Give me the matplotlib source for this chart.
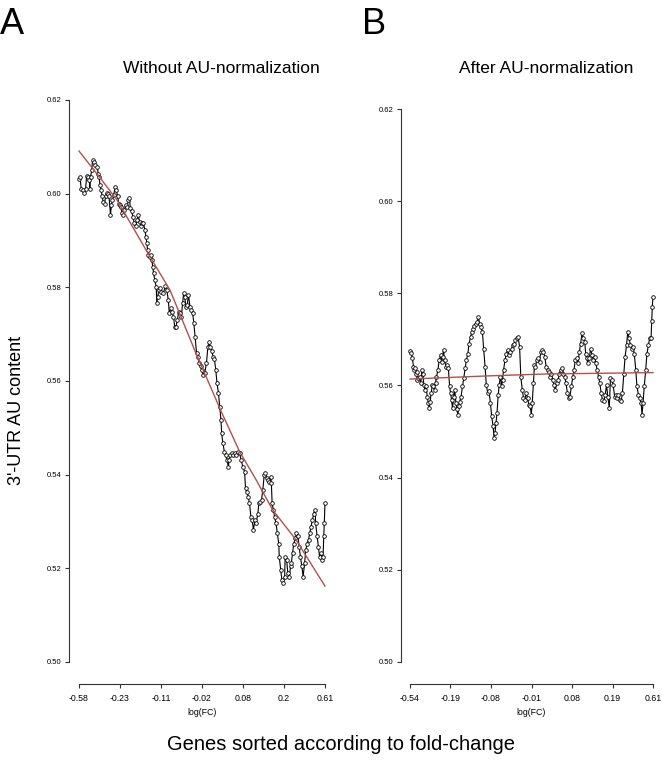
import matplotlib
matplotlib.use("Agg")
import matplotlib.pyplot as plt
import numpy as np

plt.rcParams["font.family"] = ["Liberation Sans", "DejaVu Sans"]

# gene rank (percent of sorted genes) and sliding-window 3'-UTR AU content
rank_a = [0, 0.4, 0.9, 1.5, 2.0, 2.7, 3.1, 3.6, 4.2, 4.4, 4.7, 5.2, 5.5, 6.1, 6.7, 7.4, 7.8, 8.2, 8.5, 9.0,
          9.4, 9.8, 10.4, 10.8, 11.2, 11.7, 12.2, 12.8, 13.2, 13.6, 14.1, 14.7, 15.2, 15.7, 16.2, 16.6, 17.1,
          17.5, 17.9, 18.4, 19.0, 19.5, 20.1, 20.5, 20.9, 21.4, 21.9, 22.5, 23.0, 23.6, 24.1, 24.6, 25.2,
          25.7, 26.2, 26.8, 27.2, 27.6, 27.9, 28.1, 28.7, 29.2, 29.6, 30.0, 30.3, 30.8, 31.4, 31.6, 32.0,
          32.4, 33.0, 33.4, 34.3, 35.0, 35.7, 36.3, 36.7, 37.3, 37.8, 38.4, 38.9, 39.4, 40.0, 40.5, 41.0,
          41.6, 42.1, 42.5, 42.9, 43.5, 44.0, 44.5, 45.1, 45.6, 46.2, 46.7, 47.2, 47.8, 48.3, 48.9, 49.4,
          49.9, 50.5, 51.1, 51.8, 52.4, 52.9, 53.4, 54.0, 54.5, 55.0, 55.6, 56.1, 56.7, 57.2, 57.7, 58.0,
          58.5, 59.1, 59.6, 60.2, 60.7, 61.0, 61.5, 62.0, 62.6, 63.4, 63.9, 64.6, 65.3, 65.9, 66.6, 67.3,
          67.7, 68.2, 68.8, 69.3, 69.9, 70.4, 70.9, 71.5, 72.0, 72.7, 73.1, 73.6, 74.2, 74.7, 75.3, 75.8,
          76.3, 76.9, 77.4, 77.9, 78.2, 78.5, 79.0, 79.5, 80.1, 80.6, 81.2, 81.4, 82.0, 82.5, 83.0, 83.6,
          83.8, 84.4, 84.9, 85.5, 86.0, 86.3, 86.8, 87.3, 87.9, 88.4, 89.0, 89.5, 90.0, 90.6, 91.1, 91.7,
          92.2, 92.7, 93.3, 93.8, 94.3, 94.9, 95.4, 96.0, 96.2, 96.8, 97.3, 97.8, 98.4, 98.9, 99.2, 99.5,
          99.7, 100.0]
au_a = [0.6031, 0.6035, 0.6011, 0.6008, 0.6001, 0.6011, 0.6038, 0.6035, 0.6029, 0.6011, 0.6036, 0.6051,
        0.6072, 0.6068, 0.6061, 0.6058, 0.6043, 0.6036, 0.6019, 0.6008, 0.5994, 0.5983, 0.5979, 0.5994,
        0.6001, 0.5999, 0.5994, 0.5955, 0.5976, 0.5986, 0.5997, 0.6015, 0.6008, 0.5994, 0.5979, 0.5976,
        0.5972, 0.5958, 0.5955, 0.5965, 0.5976, 0.5972, 0.5986, 0.5990, 0.5969, 0.5962, 0.5951, 0.5937,
        0.5930, 0.5944, 0.5955, 0.5940, 0.5930, 0.5937, 0.5937, 0.5922, 0.5908, 0.5894, 0.5880, 0.5869,
        0.5865, 0.5869, 0.5858, 0.5844, 0.5830, 0.5816, 0.5801, 0.5766, 0.5780, 0.5794, 0.5798, 0.5791,
        0.5787, 0.5802, 0.5794, 0.5773, 0.5745, 0.5755, 0.5748, 0.5737, 0.5716, 0.5716, 0.5730, 0.5748,
        0.5745, 0.5737, 0.5766, 0.5787, 0.5780, 0.5759, 0.5762, 0.5784, 0.5759, 0.5752, 0.5745, 0.5723,
        0.5695, 0.5659, 0.5652, 0.5638, 0.5631, 0.5624, 0.5613, 0.5617, 0.5638, 0.5673, 0.5684, 0.5673,
        0.5663, 0.5652, 0.5648, 0.5624, 0.5595, 0.5574, 0.5545, 0.5517, 0.5488, 0.5467, 0.5449, 0.5442,
        0.5431, 0.5417, 0.5431, 0.5442, 0.5446, 0.5442, 0.5446, 0.5442, 0.5449, 0.5446, 0.5431, 0.5417,
        0.5406, 0.5371, 0.5364, 0.5353, 0.5339, 0.5310, 0.5303, 0.5282, 0.5303, 0.5296, 0.5317, 0.5339,
        0.5342, 0.5346, 0.5367, 0.5399, 0.5403, 0.5392, 0.5389, 0.5385, 0.5396, 0.5382, 0.5339, 0.5325,
        0.5310, 0.5296, 0.5275, 0.5253, 0.5225, 0.5196, 0.5175, 0.5168, 0.5182, 0.5225, 0.5218, 0.5189,
        0.5182, 0.5204, 0.5211, 0.5232, 0.5253, 0.5264, 0.5275, 0.5268, 0.5246, 0.5225, 0.5204, 0.5182,
        0.5211, 0.5239, 0.5253, 0.5261, 0.5275, 0.5289, 0.5303, 0.5317, 0.5325, 0.5296, 0.5268, 0.5246,
        0.5225, 0.5232, 0.5218, 0.5225, 0.5268, 0.5296, 0.5339]
fit_rank_a = [0, 8.7, 15.5, 28.9, 37.0, 47.8, 57.8, 65.3, 72.0, 78.7, 88.2, 100]
fit_au_a = [0.6091, 0.6033, 0.5986, 0.5865, 0.5794, 0.5656, 0.5535, 0.5449, 0.5389, 0.5325, 0.5261, 0.5162]

rank_b = [0, 0.5, 1.0, 1.4, 1.6, 2.0, 2.5, 2.7, 3.0, 3.4, 4.0, 4.4, 4.9, 5.3, 5.7, 6.1, 6.6, 7.1, 7.5, 7.9,
          8.3, 8.7, 9.2, 9.6, 10.1, 10.5, 10.9, 11.5, 12.0, 12.6, 13.0, 13.4, 13.8, 14.2, 14.8, 15.3, 15.8,
          16.3, 16.7, 17.1, 17.5, 18.0, 18.4, 18.9, 19.3, 19.7, 20.1, 20.5, 21.0, 21.6, 22.1, 22.7, 23.2,
          23.8, 24.3, 24.9, 25.4, 26.0, 26.5, 27.0, 27.6, 28.1, 28.7, 29.2, 29.8, 30.3, 30.9, 31.4, 32.0,
          32.5, 33.1, 33.6, 34.2, 34.6, 35.0, 35.4, 35.8, 36.3, 36.7, 37.2, 37.7, 38.1, 38.5, 39.1, 39.6,
          40.2, 40.7, 41.3, 41.8, 42.3, 42.9, 43.4, 44.0, 44.5, 45.1, 45.6, 46.2, 46.7, 47.3, 47.8, 48.4,
          48.9, 49.5, 49.9, 50.3, 50.8, 51.2, 51.6, 52.2, 52.7, 53.3, 53.8, 54.4, 54.9, 55.5, 56.0, 56.6,
          57.1, 57.7, 58.2, 58.7, 59.3, 59.8, 60.4, 60.9, 61.5, 62.0, 62.6, 63.1, 63.7, 64.2, 64.8, 65.3,
          65.8, 66.4, 67.0, 67.5, 68.0, 68.6, 69.1, 69.7, 70.2, 70.8, 71.3, 71.9, 72.3, 72.7, 73.2, 73.8,
          74.3, 74.9, 75.4, 76.0, 76.5, 77.0, 77.6, 78.1, 78.7, 79.2, 79.8, 80.3, 80.9, 81.4, 82.0, 82.5,
          83.1, 83.6, 84.2, 84.7, 85.2, 85.8, 86.3, 86.9, 87.4, 88.0, 88.5, 89.1, 89.6, 90.2, 90.7, 91.3,
          91.8, 92.3, 92.9, 93.4, 94.0, 94.5, 95.1, 95.5, 95.9, 96.4, 97.0, 97.5, 98.1, 98.6, 99.2, 99.5,
          99.7, 100.0]
au_b = [0.5675, 0.5671, 0.5659, 0.5641, 0.5634, 0.5637, 0.5626, 0.5630, 0.5612, 0.5616, 0.5619, 0.5605,
        0.5634, 0.5626, 0.5601, 0.5591, 0.5598, 0.5576, 0.5562, 0.5551, 0.5565, 0.5583, 0.5601, 0.5598,
        0.5591, 0.5605, 0.5619, 0.5634, 0.5655, 0.5666, 0.5651, 0.5662, 0.5677, 0.5655, 0.5641, 0.5644,
        0.5637, 0.5598, 0.5583, 0.5569, 0.5551, 0.5576, 0.5591, 0.5562, 0.5548, 0.5537, 0.5555, 0.5565,
        0.5576, 0.5598, 0.5616, 0.5637, 0.5655, 0.5669, 0.5691, 0.5705, 0.5716, 0.5723, 0.5730, 0.5734,
        0.5737, 0.5748, 0.5734, 0.5727, 0.5716, 0.5680, 0.5641, 0.5601, 0.5583, 0.5587, 0.5562, 0.5533,
        0.5512, 0.5487, 0.5498, 0.5519, 0.5540, 0.5579, 0.5601, 0.5619, 0.5598, 0.5612, 0.5634, 0.5655,
        0.5669, 0.5677, 0.5666, 0.5673, 0.5680, 0.5687, 0.5691, 0.5698, 0.5702, 0.5705, 0.5684, 0.5619,
        0.5591, 0.5573, 0.5569, 0.5583, 0.5573, 0.5558, 0.5555, 0.5537, 0.5562, 0.5605, 0.5644, 0.5641,
        0.5655, 0.5659, 0.5651, 0.5673, 0.5677, 0.5673, 0.5662, 0.5641, 0.5634, 0.5630, 0.5619, 0.5626,
        0.5612, 0.5601, 0.5591, 0.5605, 0.5612, 0.5626, 0.5634, 0.5637, 0.5626, 0.5619, 0.5605, 0.5583,
        0.5573, 0.5576, 0.5598, 0.5619, 0.5634, 0.5655, 0.5659, 0.5648, 0.5673, 0.5691, 0.5713, 0.5702,
        0.5695, 0.5669, 0.5659, 0.5648, 0.5659, 0.5680, 0.5666, 0.5655, 0.5662, 0.5648, 0.5634, 0.5619,
        0.5605, 0.5583, 0.5569, 0.5566, 0.5580, 0.5601, 0.5576, 0.5551, 0.5616, 0.5612, 0.5601, 0.5576,
        0.5580, 0.5573, 0.5580, 0.5569, 0.5566, 0.5583, 0.5626, 0.5662, 0.5687, 0.5716, 0.5702, 0.5687,
        0.5680, 0.5684, 0.5669, 0.5634, 0.5598, 0.5580, 0.5573, 0.5562, 0.5537, 0.5562, 0.5598, 0.5634,
        0.5669, 0.5687, 0.5702, 0.5702, 0.5741, 0.5770, 0.5792]
fit_rank_b = [0, 33, 56, 100]
fit_au_b = [0.5614, 0.5621, 0.5625, 0.5628]

fc_labels_a = ["-0.58", "-0.23", "-0.11", "-0.02", "0.08", "0.2", "0.61"]
fc_labels_b = ["-0.54", "-0.19", "-0.08", "-0.01", "0.08", "0.19", "0.61"]
y_ticks = [0.50, 0.52, 0.54, 0.56, 0.58, 0.60, 0.62]

W, H = 662, 762
fig = plt.figure(figsize=(W / 100, H / 100), dpi=100)


def panel(rect, rank, au, fit_rank, fit_au, labels, left_out):
    ax = fig.add_axes(rect)
    ax.plot(rank, au, color="black", lw=0.8, marker="o", ms=2.6, mfc="white",
            mec="black", mew=0.6, clip_on=False, zorder=2)
    ax.plot(fit_rank, fit_au, color="#b4504a", lw=1.0, clip_on=False, zorder=3)
    ax.set_xlim(0, 100)
    ax.set_ylim(0.50, 0.62)
    ax.set_xticks(np.linspace(0, 100, 7))
    ax.set_xticklabels(labels)
    ax.set_yticks(y_ticks)
    ax.set_yticklabels([f"{v:.2f}" for v in y_ticks], rotation=90, va="center")
    for side in ("top", "right"):
        ax.spines[side].set_visible(False)
    ax.spines["left"].set_position(("outward", left_out))
    ax.spines["bottom"].set_position(("outward", 15.8))
    ax.spines["left"].set_bounds(0.50, 0.62)
    ax.spines["bottom"].set_bounds(0, 100)
    for side in ("left", "bottom"):
        ax.spines[side].set_color("#333333")
        ax.spines[side].set_linewidth(0.8)
    ax.tick_params(axis="both", length=3, width=0.8, color="#333333")
    ax.tick_params(axis="y", labelsize=5.5, pad=2.5)
    ax.tick_params(axis="x", labelsize=6.3, pad=4)
    ax.set_xlabel("log(FC)", fontsize=6.3, labelpad=4)
    ax.patch.set_visible(False)
    return ax


panel([79 / W, 1 - 662 / H, 246 / W, 562 / H], rank_a, au_a, fit_rank_a, fit_au_a, fc_labels_a, 7.2)
panel([410 / W, 1 - 662 / H, 243 / W, 553 / H], rank_b, au_b, fit_rank_b, fit_au_b, fc_labels_b, 6.5)

fig.text(221 / W, 1 - 73 / H, "Without AU-normalization", fontsize=12.5, ha="center", va="baseline")
fig.text(546 / W, 1 - 73 / H, "After AU-normalization", fontsize=12.5, ha="center", va="baseline")
fig.text(0 / W, 1 - 34 / H, "A", fontsize=26, ha="left", va="baseline")
fig.text(362 / W, 1 - 34 / H, "B", fontsize=26, ha="left", va="baseline")
fig.text(17 / W, 1 - 410 / H, "3'-UTR AU content", fontsize=13, rotation=90, ha="center", va="center")
fig.text(167 / W, 1 - 750 / H, "Genes sorted according to fold-change", fontsize=14.5, ha="left",
         va="baseline")

fig.savefig("out.png", dpi=100)
